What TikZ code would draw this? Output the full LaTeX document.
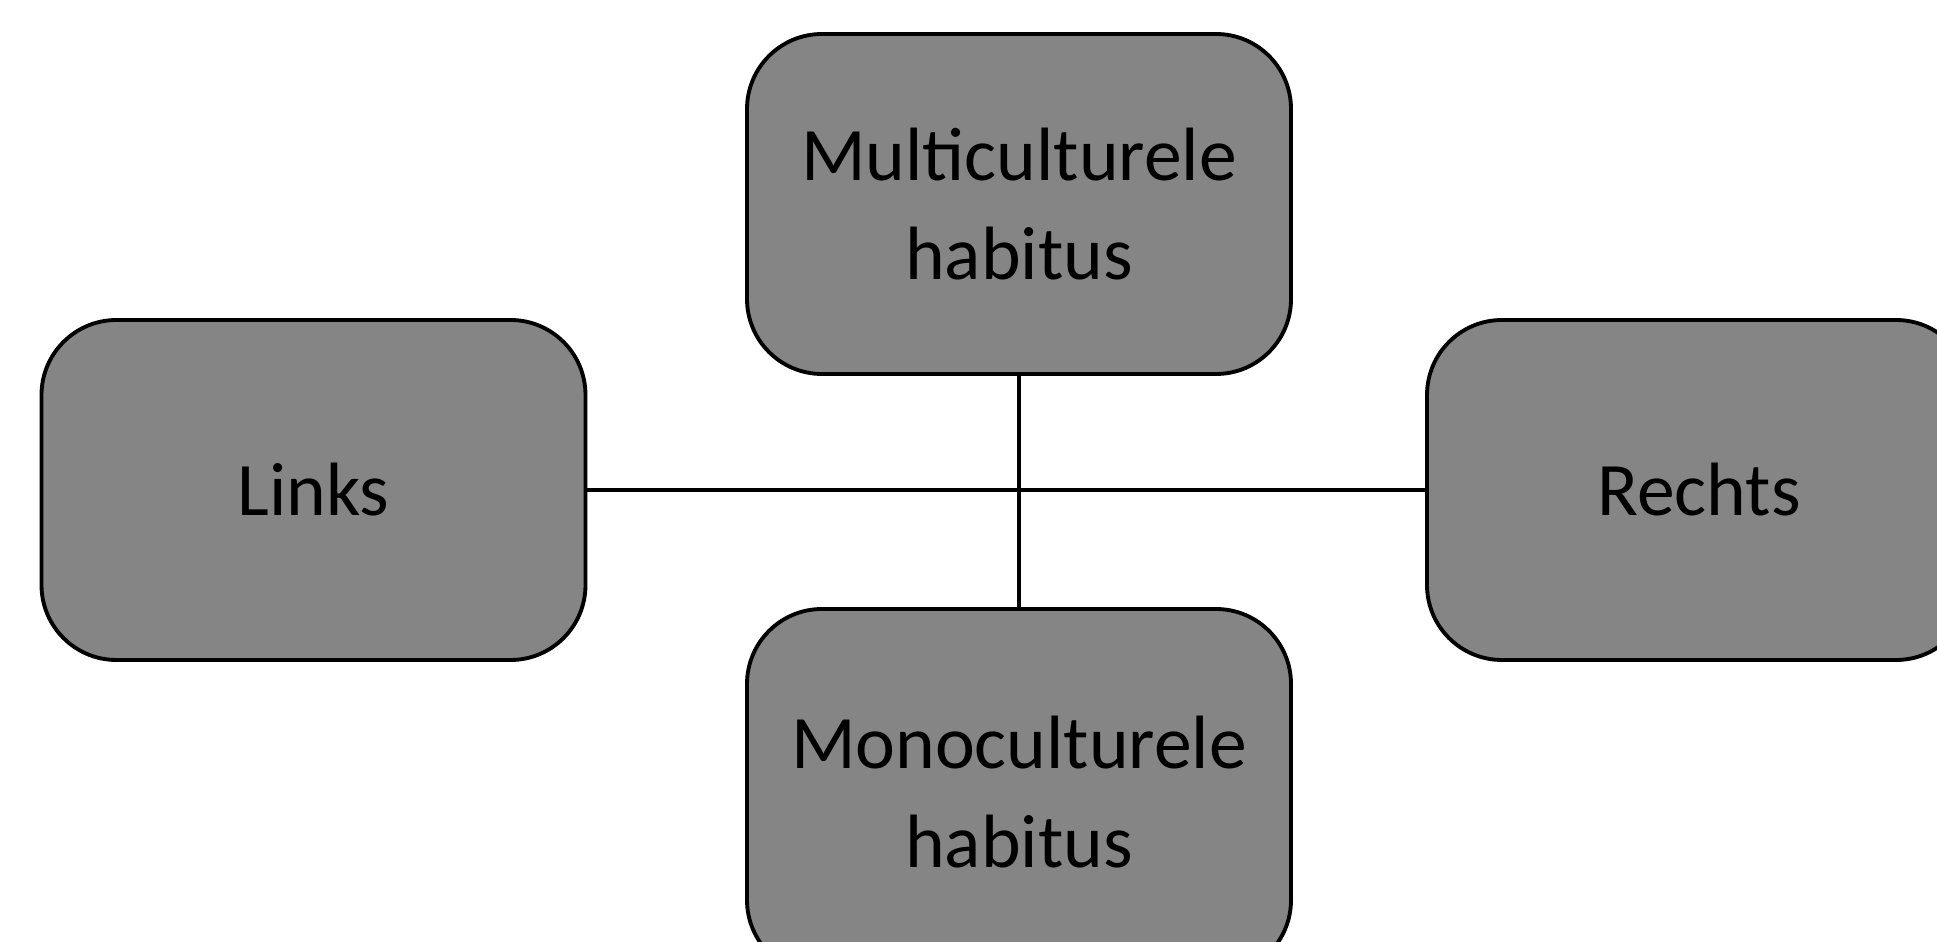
\documentclass[tikz,border=0pt]{standalone}
\usepackage{fontspec}
\setmainfont{Carlito}
\usepackage{tikz}
\usetikzlibrary{positioning}

\begin{document}
\begin{tikzpicture}[line width=1.1pt,
  main node/.style={rectangle,rounded corners=7.5mm,draw,fill=black!48,
    minimum width=5.44cm,minimum height=3.4cm,align=center,
    font=\fontsize{21.5}{28}\selectfont}]
  \useasboundingbox (0,0) rectangle (19.37,9.41);

  \node[main node] (multi) at (10.19,7.37) {Multiculturele\\habitus};
  \node[main node] (links) at (3.135,4.51) {Links};
  \node[main node] (rechts) at (16.99,4.51) {Rechts};
  \node[main node,minimum height=3.66cm] (mono) at (10.19,1.49) {Monoculturele\\habitus};

  \draw (links) -- (rechts);
  \draw (multi) -- (mono);
\end{tikzpicture}
\end{document}
